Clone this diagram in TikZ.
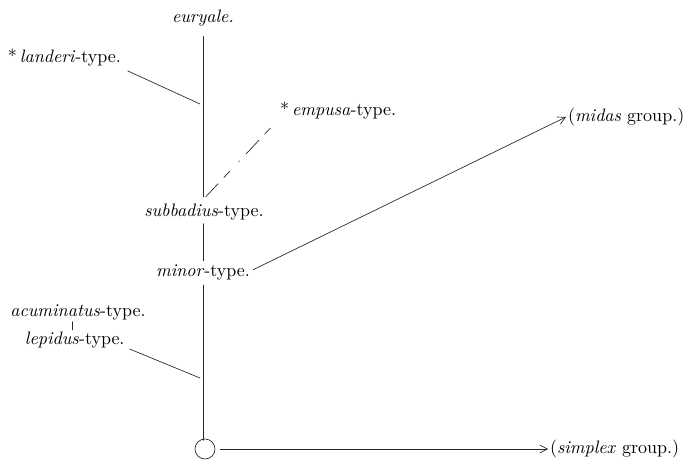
\documentclass[tikz,border=0pt]{standalone}
\usepackage{tikz}
\usetikzlibrary{arrows.meta,positioning,calc}
\tikzset{
  stem/.style={thin, draw=black!85, line cap=round},
  branch/.style={stem, shorten <=1pt},
  guess/.style={stem, dash pattern=on 11pt off 5pt on 5pt off 8pt on 0.6pt off 6pt},
  leadarrow/.style={stem, -{Straight Barb[length=1.6mm,width=1.7mm]}},
  typename/.style={inner sep=1pt}
}

\begin{document}
\begin{tikzpicture}[x=0.6pt, y=-0.6pt, font=\fontsize{10.8}{13}\selectfont]
\useasboundingbox (0,0) rectangle (699,460);

% species types, placed as in the plate
\node[typename] (eury) at (203,18) {\textit{euryale.}};
\node[typename, anchor=west] (land) at (6,58) {*\,\textit{landeri}-type.};
\node[typename, anchor=west] (emp) at (278,111) {*\,\textit{empusa}-type.};
\node[typename] (subb) at (204,212) {\textit{subbadius}-type.};
\node[typename] (minor) at (203,272) {\textit{minor}-type.};
\node[typename] (acum) at (78,312) {\textit{acuminatus}-type.};
\node[typename, anchor=west] (lep) at (23,340) {\textit{lepidus}-type.};
\node[typename, anchor=west] (midas) at (566,117) {(\textit{midas} group.)};
\node[typename, anchor=west] (simplex) at (548,449) {(\textit{simplex} group.)};
\node[draw=black!85, thin, circle, minimum size=12pt, inner sep=0pt] (root) at (205,449) {};

% main stem
\coordinate (axis) at (203,0);
\coordinate (jland) at (200,104);
\coordinate (jlep) at (200,378);
\draw[stem] ([yshift=-5pt]eury.south -| axis) -- ([yshift=3pt]subb.north -| axis);
\draw[stem] ([yshift=-1pt]subb.south -| axis) -- ([yshift=1pt]minor.north -| axis);
\draw[stem] ([yshift=-2pt]minor.south -| axis) -- ([yshift=-1pt]root.north -| axis);

% side branches
\draw[branch] ([xshift=2pt,yshift=-1pt]land.south east) -- (jland);
\draw[guess] ([xshift=1pt,yshift=3pt]subb.north) -- ([yshift=1pt]emp.south west);
\draw[branch, leadarrow] ([yshift=1pt]minor.east) -- (midas.west);
\draw[stem] ([xshift=-3.5pt]acum.south) -- ([xshift=-3.5pt]acum.south |- lep.north);
\draw[branch] ([xshift=1pt,yshift=1pt]lep.south east) -- (jlep);
\draw[leadarrow] ([xshift=3pt]root.east) -- (simplex.west);
\end{tikzpicture}
\end{document}
